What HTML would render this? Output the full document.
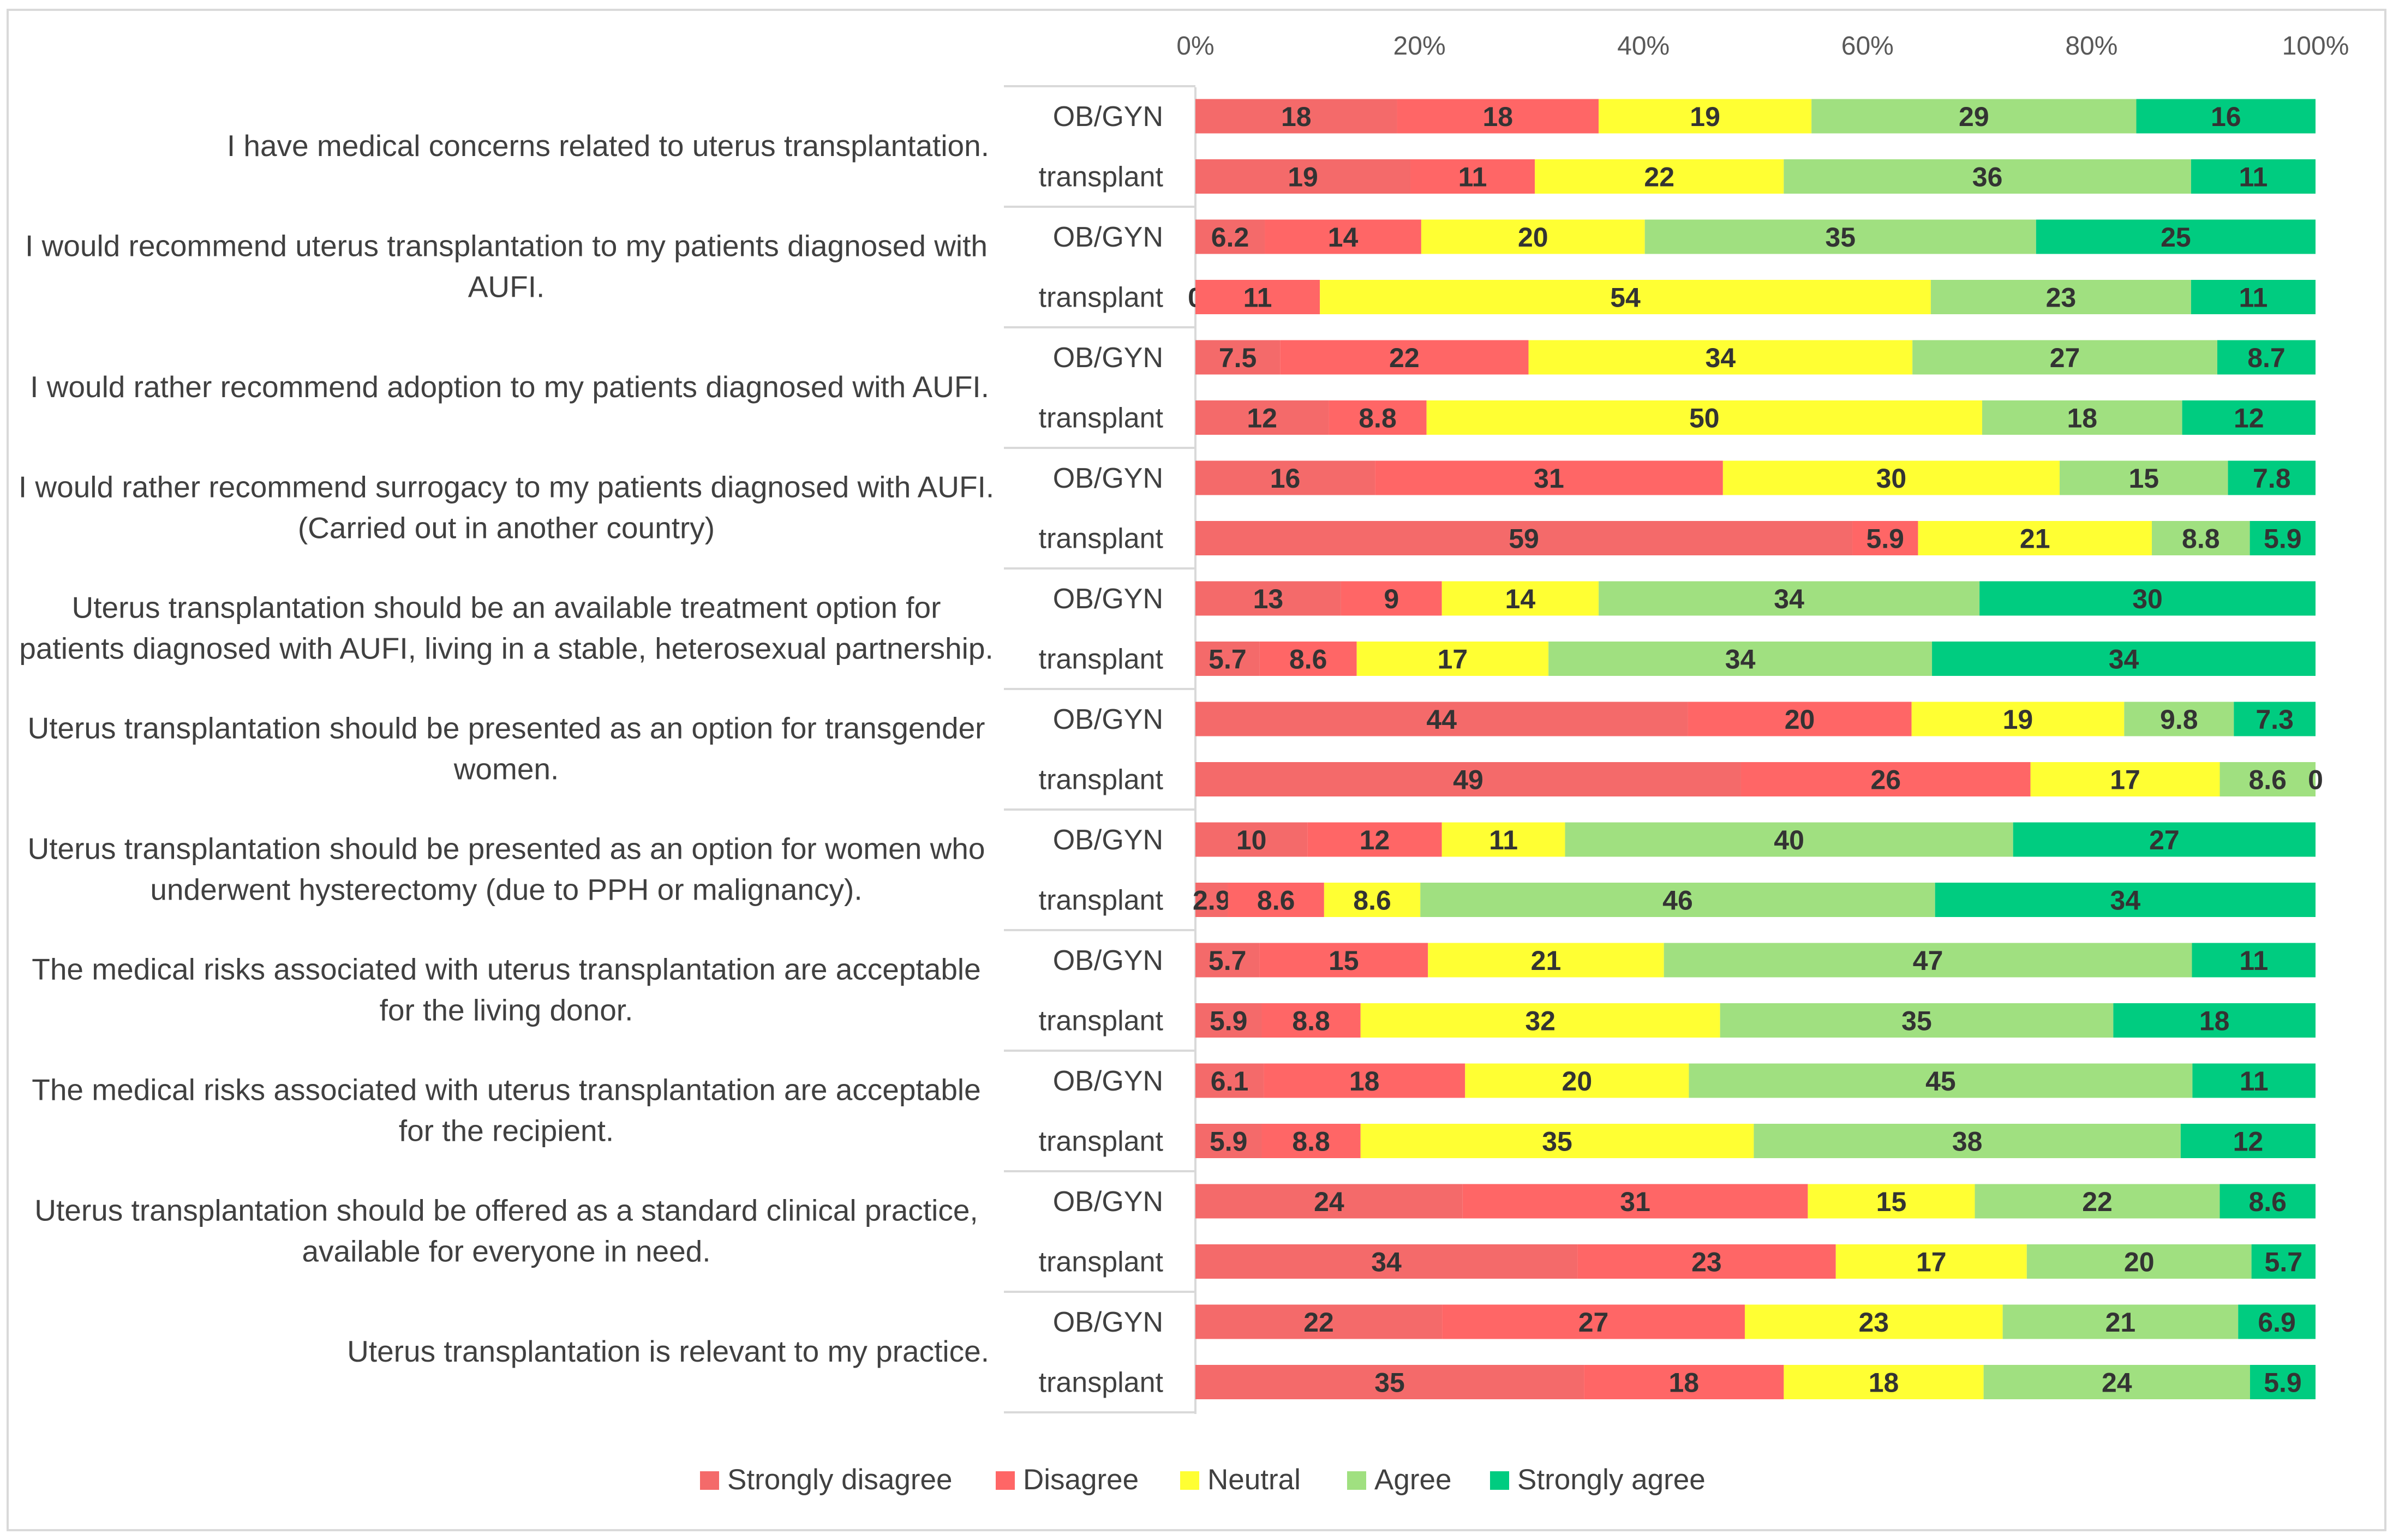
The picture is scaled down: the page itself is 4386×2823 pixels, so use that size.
<!DOCTYPE html>
<html><head><meta charset="utf-8"><style>
html,body{margin:0;padding:0;background:#fff;}
svg{display:block;font-family:"Liberation Sans",sans-serif;}
</style></head><body>
<svg id="chart" width="4386" height="2823" viewBox="0 0 4386 2823" xmlns="http://www.w3.org/2000/svg">
<rect x="14" y="18" width="4358" height="2787" fill="#fff" stroke="#d9d9d9" stroke-width="4"/>
<g id="g"></g>
</svg>
<script>
const tickLabels=["0%","20%","40%","60%","80%","100%"];
const groups=["OB/GYN","transplant"];
const seriesNames=["Strongly disagree","Disagree","Neutral","Agree","Strongly agree"];
const colors=["#F46A6A","#FF6666","#FFFF33","#A0E080","#00CC80"];
const questions=[
 ["I have medical concerns related to uterus transplantation."],
 ["I would recommend uterus transplantation to my patients diagnosed with","AUFI."],
 ["I would rather recommend adoption to my patients diagnosed with AUFI."],
 ["I would rather recommend surrogacy to my patients diagnosed with AUFI.","(Carried out in another country)"],
 ["Uterus transplantation should be an available treatment option for","patients diagnosed with AUFI, living in a stable, heterosexual partnership."],
 ["Uterus transplantation should be presented as an option for transgender","women."],
 ["Uterus transplantation should be presented as an option for women who","underwent hysterectomy (due to PPH or malignancy)."],
 ["The medical risks associated with uterus transplantation are acceptable","for the living donor."],
 ["The medical risks associated with uterus transplantation are acceptable","for the recipient."],
 ["Uterus transplantation should be offered as a standard clinical practice,","available for everyone in need."],
 ["Uterus transplantation is relevant to my practice."]
];
const obgyn=[[18,18,19,29,16],[6.2,14,20,35,25],[7.5,22,34,27,8.7],[16,31,30,15,7.8],[13,9,14,34,30],[44,20,19,9.8,7.3],[10,12,11,40,27],[5.7,15,21,47,11],[6.1,18,20,45,11],[24,31,15,22,8.6],[22,27,23,21,6.9]];
const transplant=[[19,11,22,36,11],[0,11,54,23,11],[12,8.8,50,18,12],[59,5.9,21,8.8,5.9],[5.7,8.6,17,34,34],[49,26,17,8.6,0],[2.9,8.6,8.6,46,34],[5.9,8.8,32,35,18],[5.9,8.8,35,38,12],[34,23,17,20,5.7],[35,18,18,24,5.9]];

const NS="http://www.w3.org/2000/svg";
const g=document.getElementById('g');
const X0=2191,X1=4244;
const xs=p=>X0+(X1-X0)*p/100;
const rowY=i=>213+110.5*i;
const BH=63;
function el(t,a,txt){const e=document.createElementNS(NS,t);for(const k in a)e.setAttribute(k,a[k]);if(txt!==undefined)e.textContent=txt;g.appendChild(e);return e;}

tickLabels.forEach((t,i)=>{
 const e=el('text',{x:xs(i*20),y:100,'font-size':48,fill:'#595959','text-anchor':'middle'},t);
 
 
});
const ax=el('line',{x1:X0,y1:160,x2:X0,y2:2592,stroke:'#d9d9d9','stroke-width':4});


for(let k=0;k<=questions.length;k++){
 const y=158+221*k;
 const l=el('line',{x1:1840,y1:y,x2:X0,y2:y,stroke:'#d9d9d9','stroke-width':4});
 
 
}
questions.forEach((q,qi)=>{
 const cy=rowY(qi*2)+55;
 if(q.length===1){
  const t=el('text',{x:1813,y:cy+18,'font-size':55,fill:'#404040','text-anchor':'end'},q[0]);
  
  
 } else {
  const t=el('text',{x:928,'font-size':55,fill:'#404040','text-anchor':'middle'});
  
  
  q.forEach((line,li)=>{const s=document.createElementNS(NS,'tspan');s.setAttribute('x',928);s.setAttribute('y',cy+18+(li-0.5)*75);s.textContent=line;t.appendChild(s);});
 }
 [obgyn[qi],transplant[qi]].forEach((vals,gi)=>{
  const y=rowY(qi*2+gi);
  const gl=el('text',{x:2132,y:y+18,'font-size':52,fill:'#404040','text-anchor':'end'},groups[gi]);
  
  
  const sum=vals.reduce((a,b)=>a+b,0);
  let acc=0;
  vals.forEach((v,si)=>{
   const p0=acc/sum*100; acc+=v; const p1=acc/sum*100;
   const r=el('rect',{x:xs(p0),y:y-BH/2,width:Math.max(0,xs(p1)-xs(p0)),height:BH,fill:colors[si]});
   
   
   const lbl=el('text',{x:(xs(p0)+xs(p1))/2,y:y+18,'font-size':50,'font-weight':'bold',fill:'#333','text-anchor':'middle'},String(v));
   
   
  });
 });
});
const legX=[1283,1825,2163,2469,2731];
seriesNames.forEach((n,i)=>{
 const r=el('rect',{x:legX[i],y:2697,width:35,height:34,fill:colors[i]});
 
 
 const t=el('text',{x:legX[i]+50,y:2730,'font-size':53,fill:'#404040'},n);
 
 
});
</script>
</body></html>
